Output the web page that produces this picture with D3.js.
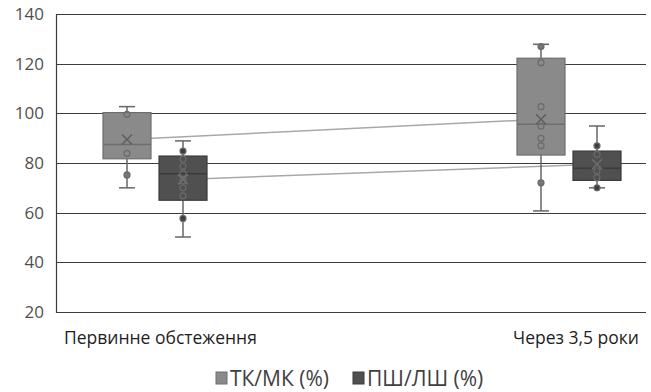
<!DOCTYPE html>
<html>
<head>
<meta charset="utf-8">
<script src="https://cdn.jsdelivr.net/npm/d3@7/dist/d3.min.js"></script>
<style>
  body { margin: 0; background: #fff; }
  svg { font-family: "Open Sans", "Noto Sans", sans-serif; }
</style>
</head>
<body>
<div id="chart"></div>
<script>
// categories and series
var categories = ["Первинне обстеження", "Через 3,5 роки"];
var seriesNames = ["ТК/МК (%)", "ПШ/ЛШ (%)"];
var yTicks = [20, 40, 60, 80, 100, 120, 140];

// box stats per series, per category: [min, q1, median, q3, max, mean]
var tkmkStats = [
  [70, 81.7, 87.5, 100.3, 102.7, 89.5],
  [60.7, 83.2, 95.6, 122.2, 127.8, 97.6]
];
var pshlshStats = [
  [50.2, 65, 75.7, 82.8, 88.9, 73.4],
  [70, 73, 77.9, 84.8, 94.9, 79.5]
];

// points per series, per category: [value, filled]
var tkmkPoints = [
  [[99.6, 0], [83.9, 0], [75.2, 1]],
  [[126.9, 1], [120.4, 0], [102.7, 0], [94.9, 0], [89.9, 0], [86.9, 0], [72, 1]]
];
var pshlshPoints = [
  [[84.8, 1], [81.6, 0], [78.7, 0], [75.7, 0], [72.8, 0], [70, 0], [66.8, 0], [57.7, 1]],
  [[86.9, 1], [83.5, 0], [76.8, 0], [74.1, 0], [70, 1]]
];

var fills = ["#8a8a8a", "#505050"];
var strokes = ["#6e6e6e", "#3a3a3a"];
var dotFills = ["#777", "#3e3e3e"];

var width = 651, height = 392;
var plotLeft = 56, plotRight = 646, plotTop = 14, plotBottom = 312;

var svg = d3.select("#chart").append("svg")
  .attr("width", width)
  .attr("height", height);

var y = d3.scaleLinear().domain([20, 140]).range([plotBottom, plotTop]);

var x = d3.scalePoint().domain(categories).range([155, 569]);
var boxW = 48, gap = 8;

// gridlines
svg.append("g")
  .selectAll("line")
  .data(yTicks)
  .enter().append("line")
  .attr("x1", plotLeft).attr("x2", plotRight)
  .attr("y1", d => Math.round(y(d)) + 0.5).attr("y2", d => Math.round(y(d)) + 0.5)
  .attr("stroke", "#3c3c3c").attr("stroke-width", 1.2);

svg.append("line")
  .attr("x1", plotLeft + 0.5).attr("x2", plotLeft + 0.5)
  .attr("y1", plotTop).attr("y2", plotBottom + 1)
  .attr("stroke", "#3c3c3c").attr("stroke-width", 1.2);

var yAxis = svg.append("g")
  .attr("transform", "translate(" + (plotLeft - 12) + ",0)")
  .call(d3.axisLeft(y).tickValues(yTicks).tickSize(0).tickPadding(0));
yAxis.select(".domain").remove();
yAxis.selectAll("text")
  .attr("font-size", "17px").attr("fill", "#505050")
  .attr("font-family", "Open Sans, sans-serif");

// category labels
svg.append("text").attr("x", 64).attr("y", 344)
  .attr("font-size", "17.5px").attr("fill", "#1e1e1e").text(categories[0]);
svg.append("text").attr("x", 639).attr("y", 344).attr("text-anchor", "end")
  .attr("font-size", "17.5px").attr("fill", "#1e1e1e").text(categories[1]);

var allStats = [tkmkStats, pshlshStats];
var allPoints = [tkmkPoints, pshlshPoints];

function cx(s, c) {
  var center = x(categories[c]);
  return s == 0 ? center - gap / 2 - boxW / 2 : center + gap / 2 + boxW / 2;
}

// mean lines
allStats.forEach(function(stats, s) {
  svg.append("line")
    .attr("x1", cx(s, 0)).attr("y1", y(stats[0][5]))
    .attr("x2", cx(s, 1)).attr("y2", y(stats[1][5]))
    .attr("stroke", "#a8a8a8").attr("stroke-width", 1.5);
});

allStats.forEach(function(stats, s) {
  stats.forEach(function(d, c) {
    var g = svg.append("g");
    var mx = cx(s, c);
    // whiskers
    g.append("line").attr("x1", mx).attr("x2", mx)
      .attr("y1", y(d[4])).attr("y2", y(d[3]))
      .attr("stroke", "#666").attr("stroke-width", 1.5);
    g.append("line").attr("x1", mx).attr("x2", mx)
      .attr("y1", y(d[1])).attr("y2", y(d[0]))
      .attr("stroke", "#666").attr("stroke-width", 1.5);
    [d[0], d[4]].forEach(function(v) {
      g.append("line").attr("x1", mx - 8).attr("x2", mx + 8)
        .attr("y1", y(v)).attr("y2", y(v))
        .attr("stroke", "#666").attr("stroke-width", 1.5);
    });
    // box
    g.append("rect")
      .attr("x", mx - boxW / 2).attr("width", boxW)
      .attr("y", y(d[3])).attr("height", y(d[1]) - y(d[3]))
      .attr("fill", fills[s]).attr("stroke", strokes[s]).attr("stroke-width", 1.2);
    g.append("line").attr("x1", mx - boxW / 2).attr("x2", mx + boxW / 2)
      .attr("y1", y(d[2])).attr("y2", y(d[2]))
      .attr("stroke", strokes[s]).attr("stroke-width", 1.5);
    // points
    allPoints[s][c].forEach(function(p) {
      g.append("circle").attr("cx", mx).attr("cy", y(p[0])).attr("r", 3)
        .attr("fill", p[1] ? dotFills[s] : "none")
        .attr("stroke", "#6a6a6a").attr("stroke-width", 1.2);
    });
    // mean X
    var m = y(d[5]);
    g.append("path")
      .attr("d", "M" + (mx - 5) + "," + (m - 5) + "L" + (mx + 5) + "," + (m + 5) +
                 "M" + (mx - 5) + "," + (m + 5) + "L" + (mx + 5) + "," + (m - 5))
      .attr("stroke", s == 0 ? "#5e5e5e" : "#6e6e6e").attr("stroke-width", 1.5);
  });
});

// legend
var legend = svg.append("g");
var lx = [216, 353];
seriesNames.forEach(function(name, i) {
  legend.append("rect").attr("x", lx[i]).attr("y", 372).attr("width", 11).attr("height", 12)
    .attr("fill", fills[i]).attr("stroke", strokes[i]);
  legend.append("text").attr("x", lx[i] + 14).attr("y", 386)
    .attr("font-size", "21px").attr("fill", "#404040").text(name);
});
</script>
</body>
</html>
